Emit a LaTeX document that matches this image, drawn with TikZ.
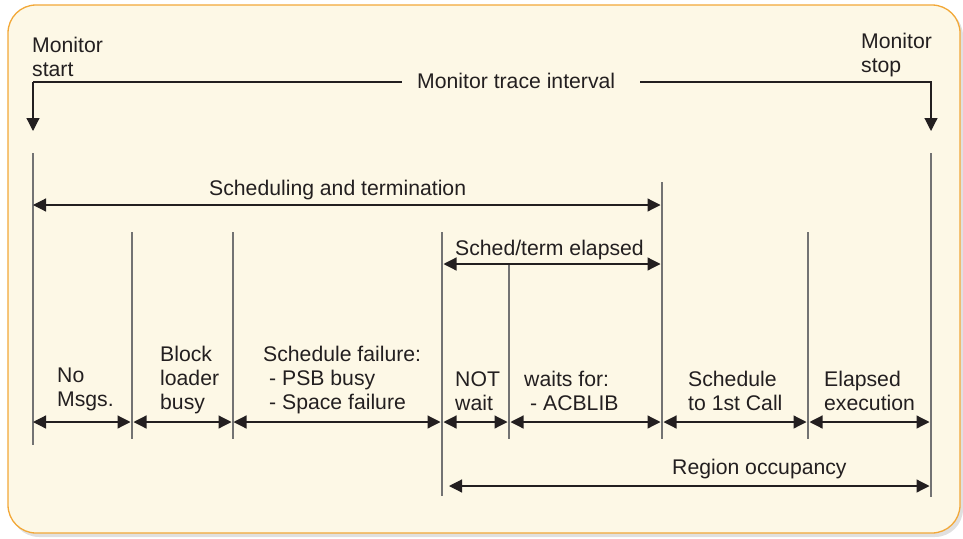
\documentclass[tikz,border=0pt]{standalone}
\usepackage{fontspec}
\setmainfont{Liberation Sans}
\usetikzlibrary{arrows.meta}
\definecolor{cream}{RGB}{253,248,230}
\definecolor{framec}{RGB}{242,168,56}
\definecolor{shadowc}{RGB}{224,224,224}
\definecolor{ink}{RGB}{35,31,32}
\definecolor{rulec}{RGB}{115,115,115}
\begin{document}
\begin{tikzpicture}[x=1pt,y=-1pt,
  lbl/.style={font=\fontsize{21.2}{24}\selectfont, text=ink, inner sep=0pt, align=left, anchor=base west},
  tick/.style={draw=rulec, line width=1.3pt},
  shaft/.style={draw=ink, line width=1.2pt},
  tipend/.style={shaft, -{Triangle[length=13pt,width=13pt]}},
  span/.style={shaft, {Triangle[length=13pt,width=13pt]}-{Triangle[length=13pt,width=13pt]}, shorten <=1.5pt, shorten >=1.5pt}
]
\useasboundingbox (0,0) rectangle (963,538);
\fill[shadowc, rounded corners=28pt] (11,8) rectangle (963,537);
\draw[framec, fill=cream, line width=1.3pt, rounded corners=28pt] (8,5) rectangle (960,533);

% vertical ticks
\coordinate (L0t) at (33,153);  \coordinate (L0b) at (33,445);
\coordinate (L1t) at (132,232); \coordinate (L1b) at (132,439);
\coordinate (L2t) at (233,232); \coordinate (L2b) at (233,439);
\coordinate (L3t) at (442,232); \coordinate (L3b) at (442,496);
\coordinate (L4t) at (509,264); \coordinate (L4b) at (509,439);
\coordinate (L5t) at (662,182); \coordinate (L5b) at (662,439);
\coordinate (L6t) at (808,232); \coordinate (L6b) at (808,439);
\coordinate (L7t) at (931,153); \coordinate (L7b) at (931,497);
\foreach \i in {0,...,7} {\draw[tick] (L\i t) -- (L\i b);}

% monitor trace interval
\node[lbl] (trace) at (417,88) {Monitor trace interval};
\node[lbl] (mstart) at (32,76) {Monitor\\start};
\node[lbl] (mstop) at (861,72) {Monitor\\stop};
\coordinate (ms) at (33,82);
\coordinate (me) at (931,82);
\coordinate (msd) at (33,131);
\coordinate (med) at (931,131);
\draw[shaft] (ms) -- ([xshift=-15pt]trace.west |- ms);
\draw[tipend] (ms) -- (msd);
\draw[tipend] ([xshift=25pt]trace.east |- me) -- (me) -- (med);

% scheduling and termination
\node[lbl] (sched) at (209,195) {Scheduling and termination};
\draw[span, shorten <=0pt] (L0t |- 0,205) -- (L5t |- 0,205);

% sched/term elapsed
\node[lbl] (elapsed) at (455,255) {Sched/term elapsed};
\draw[span] (L3t |- 0,264) -- (L5t |- 0,264);

% bottom spans
\draw[span, shorten <=0pt] (L0t |- 0,422) -- (L1t |- 0,422);
\draw[span] (L1t |- 0,422) -- (L2t |- 0,422);
\draw[span, shorten <=0.5pt] (L2t |- 0,422) -- (L3t |- 0,422);
\draw[span] (L3t |- 0,422) -- (L4t |- 0,422);
\draw[span] (L4t |- 0,422) -- (L5t |- 0,422);
\draw[span] (L5t |- 0,422) -- (L6t |- 0,422);
\draw[span] (L6t |- 0,422) -- (L7t |- 0,422);

% region occupancy
\node[lbl] (region) at (672,474) {Region occupancy};
\draw[span, shorten <=7pt] (L3t |- 0,486) -- (L7t |- 0,486);

% segment labels
\node[lbl] (nomsg) at (57,406) {No\\Msgs.};
\node[lbl] (block) at (160,409) {Block\\loader\\busy};
\node[lbl] (fail) at (263,409) {Schedule failure:\\\hspace{6pt}- PSB busy\\\hspace{6pt}- Space failure};
\node[lbl] (notwait) at (455,410) {NOT\\wait};
\node[lbl] (waits) at (524,410) {waits for:\\\hspace{6pt}- ACBLIB};
\node[lbl] (firstcall) at (688,410) {Schedule\\to 1st Call};
\node[lbl] (exec) at (824,410) {Elapsed\\execution};
\end{tikzpicture}
\end{document}
